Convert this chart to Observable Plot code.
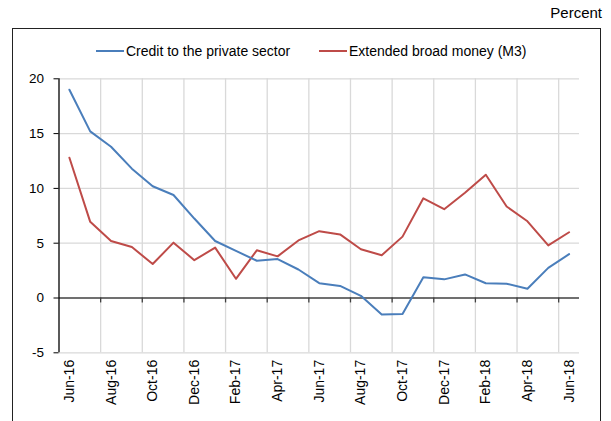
<!DOCTYPE html>
<html>
<head>
<meta charset="utf-8">
<script src="https://cdn.jsdelivr.net/npm/d3@7"></script>
<script src="https://cdn.jsdelivr.net/npm/@observablehq/plot@0.6"></script>
<style>
  html, body { margin: 0; padding: 0; background: #fff; overflow: hidden; }
  body { width: 611px; height: 421px; position: relative; font-family: "Liberation Sans", Arial, Helvetica, sans-serif; }
  #frame { position: absolute; left: 12px; top: 28px; width: 589px; height: 460px; border: 1.3px solid #222; box-sizing: border-box; }
  #percent { position: absolute; right: 9px; top: 4px; font-size: 15px; color: #000; }
  .leg { position: absolute; top: 43px; font-size: 14px; color: #000; white-space: nowrap; display: flex; align-items: center; }
  .leg span.sw { display: inline-block; width: 28px; height: 2px; margin-right: 2px; }
  #chart { position: absolute; left: 0; top: 0; }
</style>
</head>
<body>
<div id="frame"></div>
<div id="percent">Percent</div>
<div id="chart"></div>
<script>
// ---- data ----
const months = ["Jun-16","Jul-16","Aug-16","Sep-16","Oct-16","Nov-16","Dec-16","Jan-17","Feb-17","Mar-17","Apr-17","May-17","Jun-17","Jul-17","Aug-17","Sep-17","Oct-17","Nov-17","Dec-17","Jan-18","Feb-18","Mar-18","Apr-18","May-18","Jun-18"];
const creditPrivate = [19.0,15.2,13.8,11.8,10.2,9.4,7.25,5.2,4.3,3.4,3.55,2.6,1.35,1.1,0.2,-1.5,-1.45,1.9,1.7,2.15,1.35,1.3,0.85,2.75,4.0];
const broadMoneyM3 = [12.8,6.95,5.2,4.65,3.1,5.05,3.45,4.6,1.75,4.35,3.8,5.25,6.1,5.8,4.45,3.9,5.6,9.1,8.1,9.6,11.25,8.35,7.0,4.8,6.0];
const yTicks = [-5,0,5,10,15,20];
const seriesNames = ["Credit to the private sector","Extended broad money (M3)"];
const seriesColors = ["#4a7ebb","#be4b48"];

// ---- derived ----
const rows = months.map((m,i)=>({i, m, credit: creditPrivate[i], m3: broadMoneyM3[i]}));
const labelIdx = months.map((m,i)=>i).filter(i=>i%2===0);
const boundaries = labelIdx.slice(0,-1).map(i=>i+1.5);

const chart = Plot.plot({
  width: 611,
  height: 421,
  marginLeft: 58.5,
  marginRight: 32,
  marginTop: 78.3,
  marginBottom: 68.7,
  style: {fontFamily: '"Liberation Sans", Arial, Helvetica, sans-serif', fontSize: "13px", background: "transparent", color: "#000"},
  x: {domain: [-0.5, months.length - 0.5]},
  y: {domain: [-5, 20]},
  marks: [
    Plot.ruleY(yTicks.filter(v=>v!==0), {stroke: "#d9d9d9", strokeWidth: 1.3}),
    Plot.ruleX(boundaries, {y1: -5, y2: 20, stroke: "#d9d9d9", strokeWidth: 1.3}),
    Plot.ruleY([0], {stroke: "#404040", strokeWidth: 1.3}),
    Plot.ruleX(boundaries, {y1: 0, y2: -0.45, stroke: "#404040", strokeWidth: 1.3}),
    Plot.ruleX([-0.5], {y1: -5, y2: 20, stroke: "#000", strokeWidth: 1.3}),
    Plot.axisY({ticks: yTicks, tickFormat: d => String(d), tickSize: 5, tickPadding: 10, label: null, fontSize: 13.5}),
    Plot.axisX({ticks: labelIdx, tickFormat: i=>months[i], tickRotate: -90, tickSize: 0, tickPadding: 7, label: null, fontSize: 14}),
    Plot.line(rows, {x: "i", y: "m3", stroke: seriesColors[1], strokeWidth: 2}),
    Plot.line(rows, {x: "i", y: "credit", stroke: seriesColors[0], strokeWidth: 2})
  ]
});
document.getElementById("chart").appendChild(chart);

// legend
const legPos = [96, 319];
seriesNames.forEach((name, k) => {
  const d = document.createElement("div");
  d.className = "leg";
  d.style.left = legPos[k] + "px";
  const sw = document.createElement("span");
  sw.className = "sw";
  sw.style.background = seriesColors[k];
  d.appendChild(sw);
  d.appendChild(document.createTextNode(name));
  document.body.appendChild(d);
});
</script>
</body>
</html>
